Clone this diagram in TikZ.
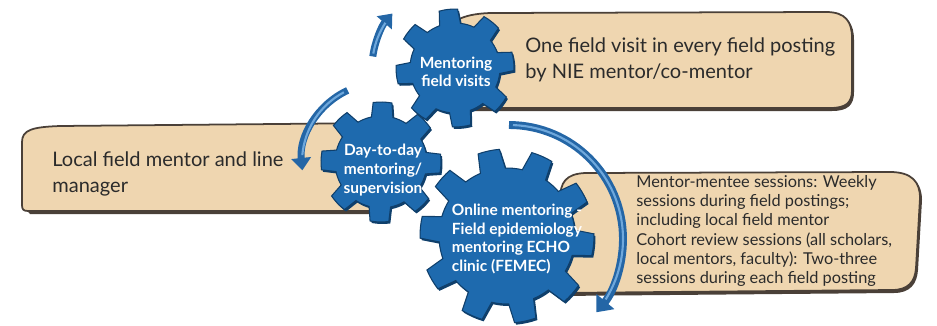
\documentclass[tikz,border=0pt]{standalone}
\usepackage{fontspec}
\setmainfont{Lato}
\usetikzlibrary{arrows.meta}

\definecolor{gearblue}{HTML}{1E6AAE}
\definecolor{geardark}{HTML}{0F3F6B}
\definecolor{bannertan}{HTML}{EFD6B0}
\definecolor{bannerline}{HTML}{4A4038}
\definecolor{arrowblue}{HTML}{2466A6}
\definecolor{arrowlight}{HTML}{6FA8DC}
\definecolor{inkgray}{HTML}{2B2B2B}

% gear outline: teeth, inner radius, outer radius, turn
\newcommand{\gearpath}[4]{%
  (#4:#2)
  \foreach \k [evaluate=\k as \s using {#4+(\k-1)*360/#1}] in {1,...,#1}{
    arc[start angle=\s, delta angle={0.4*360/#1}, radius=#2]
    -- ({\s+0.5*360/#1}:#3)
    arc[start angle={\s+0.5*360/#1}, delta angle={0.4*360/#1}, radius=#3]
    -- ({\s+360/#1}:#2)
  } -- cycle}

\tikzset{
  banner/.style={fill=bannertan, draw=bannerline, line width=1pt},
  bannershade/.style={fill=bannerline},
  gearface/.style={fill=gearblue, draw=geardark, line width=0.6pt},
  gearshade/.style={fill=geardark},
  geartext/.style={text=white, font=\bfseries\fontsize{8.8}{10.6}\selectfont, inner sep=0pt},
  bigtext/.style={text=inkgray, font=\fontsize{11.4}{14.8}\selectfont, align=left, anchor=west, inner sep=0pt},
  smalltext/.style={text=inkgray, font=\fontsize{9.3}{11}\selectfont, align=left, anchor=west, inner sep=0pt},
  cycler/.style={draw=arrowblue, line width=4pt, -{Triangle[length=7pt,width=11pt]}},
  cyclerlight/.style={draw=arrowlight, line width=1.2pt},
}

\begin{document}
\begin{tikzpicture}[x=0.02cm, y=0.02cm]
\useasboundingbox (0,0) rectangle (937,-325);

\coordinate (g1) at (455,-68);
\coordinate (g2) at (381,-162);
\coordinate (g3) at (507,-236);

% banners
\fill[bannershade] (447,-42) .. controls (447,-24) and (464,-16) .. (492,-15) -- (828,-14) .. controls (848,-14) and (854,-24) .. (854,-40) -- (854,-92) .. controls (854,-105) and (848,-111) .. (832,-111) -- (447,-111) -- cycle;
\draw[banner] (445,-40) .. controls (445,-22) and (462,-14) .. (490,-13) -- (826,-12) .. controls (846,-12) and (852,-22) .. (852,-38) -- (852,-90) .. controls (852,-103) and (846,-108) .. (830,-108) -- (445,-108) -- cycle;

\fill[bannershade] (24,-207) -- (24,-144) .. controls (24,-132) and (34,-129) .. (62,-128) -- (387,-125) -- (387,-214) -- (30,-214) -- cycle;
\draw[banner] (22,-205) -- (22,-142) .. controls (22,-130) and (32,-127) .. (60,-126) -- (385,-123) -- (385,-211) -- (28,-211) .. controls (23,-211) and (22,-209) .. (22,-205);

\fill[bannershade] (562,-202) .. controls (562,-184) and (568,-176) .. (587,-175) -- (892,-174) .. controls (914,-174) and (922,-184) .. (922,-200) -- (918,-270) .. controls (917,-284) and (910,-293) .. (894,-293) -- (557,-296) -- cycle;
\draw[banner] (560,-200) .. controls (560,-182) and (566,-174) .. (585,-173) -- (890,-172) .. controls (912,-172) and (920,-182) .. (920,-198) -- (916,-268) .. controls (915,-282) and (908,-290) .. (892,-290) -- (555,-293) -- cycle;

\node[bigtext] (visittext) at (525,-60) {One field visit in every field posting\\by NIE mentor/co-mentor};
\node[bigtext] (localtext) at (52,-174) {Local field mentor and line\\manager};
\node[smalltext] (onlinetext) at (636,-231) {Mentor-mentee sessions: Weekly\\sessions during field postings;\\including local field mentor\\Cohort review sessions (all scholars,\\local mentors, faculty): Two-three\\sessions during each field posting};

% gears
\fill[gearshade, shift={(g1)}, shift={(1.5,-2)}] \gearpath{8}{45}{59}{20};
\draw[gearface, shift={(g1)}] \gearpath{8}{45}{59}{20};
\fill[gearshade, shift={(g2)}, shift={(1.5,-2)}] \gearpath{8}{46}{60}{12};
\draw[gearface, shift={(g2)}] \gearpath{8}{46}{60}{12};
\fill[gearshade, shift={(g3)}, shift={(1.5,-2)}] \gearpath{10}{68}{87}{5};
\draw[gearface, shift={(g3)}] \gearpath{10}{68}{87}{5};

\node[geartext, align=center] (visit) at (456,-72) {Mentoring\\field visits};
\node[geartext, align=center] (daily) at (383,-170) {Day-to-day\\mentoring/\\supervision};
\node[geartext, align=left] (online) at (517,-239) {Online mentoring -\\Field epidemiology\\mentoring ECHO\\clinic (FEMEC)};

% cycle arrows
\draw[cycler] (g1) ++(172:83) arc[start angle=172, end angle=139, radius=83];
\draw[cyclerlight] (g1) ++(170:83) arc[start angle=170, end angle=147, radius=83];
\draw[cycler] (g2) ++(115:79) arc[start angle=115, end angle=186, radius=79];
\draw[cyclerlight] (g2) ++(118:79) arc[start angle=118, end angle=175, radius=79];
\draw[cycler, line width=4.5pt, -{Triangle[length=8pt,width=13pt]}] (509,-239) ++(90:114) arc[start angle=90, end angle=-40, radius=114];
\draw[cyclerlight] (509,-239) ++(88:114) arc[start angle=88, end angle=-32, radius=114];
\end{tikzpicture}
\end{document}
